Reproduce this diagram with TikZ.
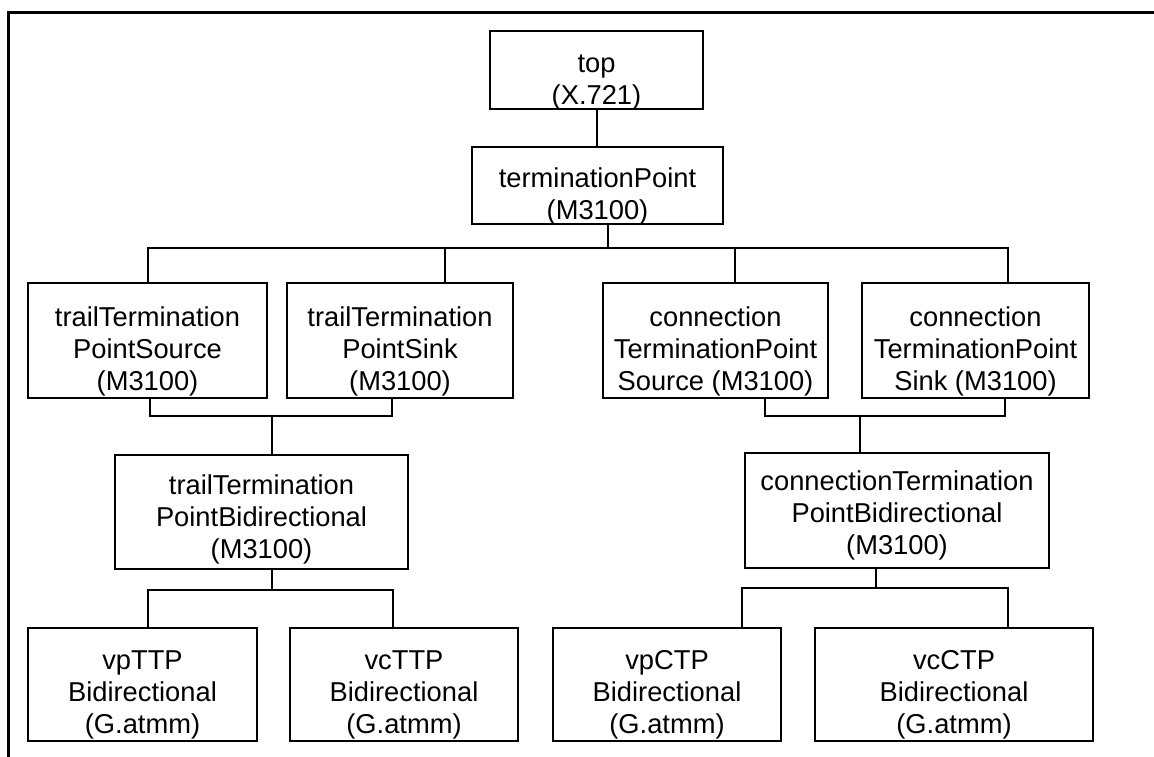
\documentclass[tikz,border=0pt]{standalone}
\usepackage{fontspec}
\setmainfont{Liberation Sans}
% class label: centred lines, drawn a little below the box centre
\newcommand{\clslabel}[2][10pt]{\raisebox{-#1}[\height][\depth]{\begin{tabular}{@{}c@{}}#2\end{tabular}}}
\begin{document}
\begin{tikzpicture}[x=1pt,y=-1pt,
  cls/.style={draw, line width=2.2pt, align=center, inner sep=0pt,
    font=\fontsize{27.3}{32}\selectfont},
  wire/.style={line width=2.2pt},
  frame/.style={line width=3pt}]
\useasboundingbox (0,0) rectangle (1154,757);
% outer frame (top and left edges)
\draw[frame] (8,757) -- (8,13) -- (1154,13);

% object classes
\node[cls, minimum width=213pt, minimum height=78pt] (top) at (596.5,70) {\clslabel[12pt]{top\\(X.721)}};
\node[cls, minimum width=251pt, minimum height=77pt] (tp) at (597.5,185.5) {\clslabel[12pt]{terminationPoint\\(M3100)}};

\node[cls, minimum width=239pt, minimum height=115pt] (ttpSrc) at (147.5,340.5) {\clslabel[12pt]{trailTermination\\PointSource\\(M3100)}};
\node[cls, minimum width=226pt, minimum height=115pt] (ttpSink) at (400,340.5) {\clslabel[12pt]{trailTermination\\PointSink\\(M3100)}};
\node[cls, minimum width=225pt, minimum height=115pt] (ctpSrc) at (715.5,340.5) {\clslabel[12pt]{connection\\TerminationPoint\\Source (M3100)}};
\node[cls, minimum width=227pt, minimum height=115pt] (ctpSink) at (975.5,340.5) {\clslabel[12pt]{connection\\TerminationPoint\\Sink (M3100)}};

\node[cls, minimum width=293pt, minimum height=114pt] (ttpBi) at (261.5,512) {\clslabel[8pt]{trailTermination\\PointBidirectional\\(M3100)}};
\node[cls, minimum width=304pt, minimum height=115pt] (ctpBi) at (897,510.5) {\clslabel[6pt]{connectionTermination\\PointBidirectional\\(M3100)}};

\node[cls, minimum width=229pt, minimum height=113pt] (vpTTP) at (142.5,684.5) {\clslabel[11pt]{vpTTP\\Bidirectional\\(G.atmm)}};
\node[cls, minimum width=228pt, minimum height=113pt] (vcTTP) at (404,684.5) {\clslabel[11pt]{vcTTP\\Bidirectional\\(G.atmm)}};
\node[cls, minimum width=228pt, minimum height=113pt] (vpCTP) at (667,684.5) {\clslabel[11pt]{vpCTP\\Bidirectional\\(G.atmm)}};
\node[cls, minimum width=278pt, minimum height=113pt] (vcCTP) at (954,684.5) {\clslabel[11pt]{vcCTP\\Bidirectional\\(G.atmm)}};

% junction points of the inheritance tree
\coordinate (t0) at (597,0);
\coordinate (b0) at (608,248);
\coordinate (b1) at (148,248);
\coordinate (b2) at (445,248);
\coordinate (b3) at (735,248);
\coordinate (b4) at (1008,248);
\coordinate (l1) at (150,416);
\coordinate (l2) at (392,416);
\coordinate (l0) at (272,416);
\coordinate (r1) at (765,416);
\coordinate (r2) at (1005,416);
\coordinate (r0) at (860,416);
\coordinate (m0) at (272,590);
\coordinate (m1) at (148,590);
\coordinate (m2) at (393,590);
\coordinate (n0) at (876,588);
\coordinate (n1) at (742,588);
\coordinate (n2) at (1008,588);

% top -> terminationPoint
\draw[wire] (top.south -| t0) -- (tp.north -| t0);
% terminationPoint -> four subclasses
\draw[wire] (tp.south -| b0) -- (b0);
\draw[wire] (ttpSrc.north -| b1) -- (b1) -- (b4) -- (ctpSink.north -| b4);
\draw[wire] (b2) -- (ttpSink.north -| b2);
\draw[wire] (b3) -- (ctpSrc.north -| b3);
% source + sink -> bidirectional (trail)
\draw[wire] (ttpSrc.south -| l1) -- (l1) -- (l2) -- (ttpSink.south -| l2);
\draw[wire] (l0) -- (ttpBi.north -| l0);
% source + sink -> bidirectional (connection)
\draw[wire] (ctpSrc.south -| r1) -- (r1) -- (r2) -- (ctpSink.south -| r2);
\draw[wire] (r0) -- (ctpBi.north -| r0);
% bidirectional (trail) -> vp/vc TTP
\draw[wire] (ttpBi.south -| m0) -- (m0);
\draw[wire] (vpTTP.north -| m1) -- (m1) -- (m2) -- (vcTTP.north -| m2);
% bidirectional (connection) -> vp/vc CTP
\draw[wire] (ctpBi.south -| n0) -- (n0);
\draw[wire] (vpCTP.north -| n1) -- (n1) -- (n2) -- (vcCTP.north -| n2);
\end{tikzpicture}
\end{document}
